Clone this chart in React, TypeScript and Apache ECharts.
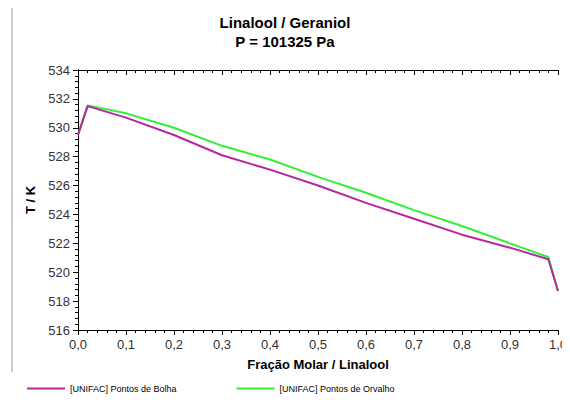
import React, { useEffect, useRef } from 'react';
import * as echarts from 'echarts';

const fracoes = [0, 0.02, 0.1, 0.2, 0.3, 0.4, 0.5, 0.6, 0.7, 0.8, 0.9, 0.98, 1.0];
const bolha = [529.5, 531.5, 530.7, 529.5, 528.1, 527.1, 526.0, 524.8, 523.7, 522.6, 521.7, 520.9, 518.7];
const orvalho = [529.5, 531.55, 531.0, 530.0, 528.75, 527.8, 526.6, 525.5, 524.3, 523.2, 522.0, 521.05, 518.7];

const FONT = 'Arial, "Liberation Sans", sans-serif';

const App: React.FC = () => {
  const chartRef = useRef<HTMLDivElement>(null);

  useEffect(() => {
    if (!chartRef.current) return;
    const chart = echarts.init(chartRef.current, null, { renderer: 'svg' });
    const axisCommon = {
      axisLine: { show: true, lineStyle: { color: '#000', width: 1 } },
      splitLine: { show: false },
      axisLabel: { color: '#333', fontSize: 13, fontFamily: FONT },
      nameTextStyle: { color: '#000', fontSize: 13, fontWeight: 'bold', fontFamily: FONT },
    };
    chart.setOption({
      animation: false,
      backgroundColor: '#fff',
      title: {
        text: 'Linalool / Geraniol\nP = 101325 Pa',
        left: 'center',
        top: 8,
        textStyle: { fontSize: 15, fontWeight: 'bold', fontFamily: FONT, lineHeight: 19, color: '#000' },
      },
      grid: { left: 78, right: 9, top: 70, bottom: 72 },
      xAxis: [{
        ...axisCommon,
        type: 'value', min: 0, max: 1, interval: 0.1,
        name: 'Fração Molar / Linalool', nameLocation: 'middle', nameGap: 28,
        axisLabel: { ...axisCommon.axisLabel, formatter: (v: number) => v.toFixed(1).replace('.', ',') },
        axisTick: { show: true, inside: false, length: 5, lineStyle: { color: '#000' } },
        minorTick: { show: true, splitNumber: 5, length: 3, lineStyle: { color: '#000' } },
      }, {
        ...axisCommon,
        type: 'value', min: 0, max: 1, interval: 0.1, position: 'top',
        axisLabel: { show: false },
        axisTick: { show: true, inside: true, length: 5, lineStyle: { color: '#000' } },
        minorTick: { show: true, splitNumber: 5, length: 3, lineStyle: { color: '#000' } },
      }],
      yAxis: [{
        ...axisCommon,
        type: 'value', min: 516, max: 534, interval: 2,
        name: 'T / K', nameLocation: 'middle', nameGap: 40,
        axisTick: { show: true, length: 5, lineStyle: { color: '#000' } },
        minorTick: { show: true, splitNumber: 5, length: 3, lineStyle: { color: '#000' } },
      }, {
        ...axisCommon,
        type: 'value', min: 516, max: 534, interval: 2, position: 'right',
        axisLabel: { show: false },
        axisTick: { show: true, inside: true, length: 5, lineStyle: { color: '#000' } },
        minorTick: { show: true, splitNumber: 5, length: 3, lineStyle: { color: '#000' } },
      }],
      legend: {
        bottom: 4, left: 22, itemGap: 60, itemWidth: 38, itemHeight: 2,
        icon: 'rect',
        textStyle: { fontSize: 9, fontFamily: FONT, color: '#000' },
        data: ['[UNIFAC] Pontos de Bolha', '[UNIFAC] Pontos de Orvalho'],
      },
      graphic: [
        { type: 'line', shape: { x1: 12, y1: 0, x2: 12, y2: 372 }, style: { stroke: '#999', lineWidth: 1 } },
      ],
      series: [
        {
          name: '[UNIFAC] Pontos de Orvalho', type: 'line', showSymbol: false, smooth: false,
          data: fracoes.map((x, i) => [x, orvalho[i]]),
          lineStyle: { color: '#33ee33', width: 2 }, itemStyle: { color: '#33ee33' },
        },
        {
          name: '[UNIFAC] Pontos de Bolha', type: 'line', showSymbol: false, smooth: false,
          data: fracoes.map((x, i) => [x, bolha[i]]),
          lineStyle: { color: '#b5289e', width: 2 }, itemStyle: { color: '#b5289e' },
        },
      ],
    });
    return () => chart.dispose();
  }, []);

  return <div ref={chartRef} style={{ width: 570, height: 402, margin: -8 }} />;
};

export default App;
